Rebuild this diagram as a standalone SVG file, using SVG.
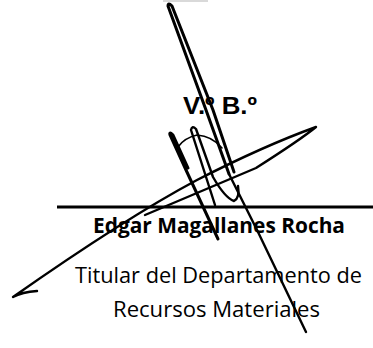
<svg xmlns="http://www.w3.org/2000/svg" width="373" height="348" viewBox="0 0 373 348">
<style>
.ink{fill:none;stroke:#000;stroke-linecap:round;stroke-linejoin:round}
.thick{stroke-width:3}
.mid{stroke-width:2.4}
.thin{stroke-width:1.6}
.body{font-family:"Open Sans","Liberation Sans",sans-serif;font-size:22px;fill:#000}
.name{font-family:"Open Sans","Liberation Sans",sans-serif;font-size:22px;font-weight:bold;fill:#000}
.vb{font-family:"Liberation Sans",Arial,sans-serif;font-size:24px;font-weight:bold;fill:#000}
</style>
<rect width="373" height="348" fill="#fff"/>
<line x1="163" y1="1" x2="208" y2="1" stroke="#ccc" stroke-width="1.5"/>
<g id="signature">
<path class="ink thick" d="M229,174 L206,110 L168,6 Q168,2 172,6 L213,110 L234,172"/>
<path class="ink mid" d="M229,174 Q240,196 258,232 L306,332"/>
<path class="ink thick" d="M218,239 L186,170 L170,135 Q169,131 173,135 L188,168"/>
<path class="ink mid" d="M215,205 L191,130 Q192,125 196,129 L213,177 Q225,198 234,201 Q240,198 238,186"/>
<path class="ink thin" d="M178,147 Q184,138 197,135 Q212,136 222,148"/>
<path class="ink mid" d="M37,291 Q22,292 13,297 C80,250 150,205 197,180 C240,158 280,140 316,127 Q300,140 256,168 L145,215"/>
</g>
<text class="vb" x="183" y="114" textLength="74" lengthAdjust="spacingAndGlyphs">V.º B.º</text>
<line x1="57" y1="207" x2="373" y2="207" stroke="#000" stroke-width="3.2"/>
<g id="labels">
<text class="name" x="93" y="233" textLength="252" lengthAdjust="spacingAndGlyphs">Edgar Magallanes Rocha</text>
<text class="body" x="75" y="283" textLength="287" lengthAdjust="spacingAndGlyphs">Titular del Departamento de</text>
<text class="body" x="113" y="317" textLength="207" lengthAdjust="spacingAndGlyphs">Recursos Materiales</text>
</g>
</svg>
